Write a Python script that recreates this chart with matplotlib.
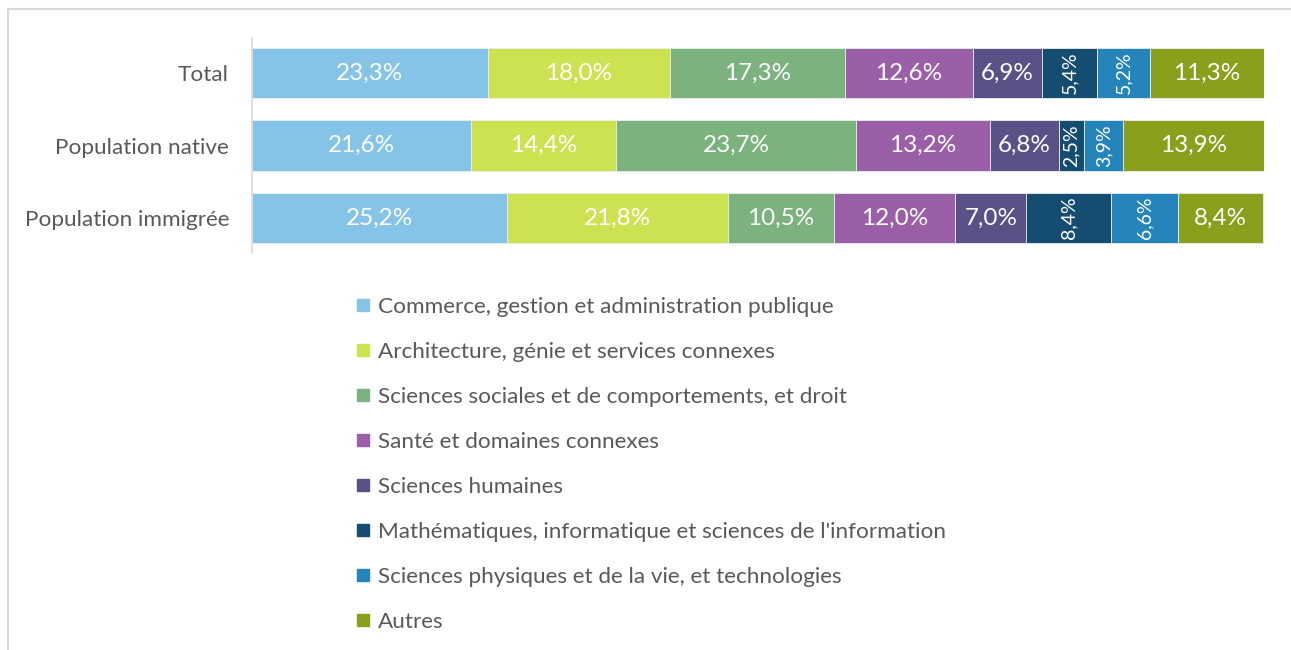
import numpy as np
import matplotlib
matplotlib.use('Agg')
import matplotlib.pyplot as plt
from matplotlib.lines import Line2D

plt.rcParams['font.family'] = ['Lato', 'DejaVu Sans']

groups = ['Total', 'Population native', 'Population immigrée']
fields = ['Commerce, gestion et administration publique',
          'Architecture, génie et services connexes',
          'Sciences sociales et de comportements, et droit',
          'Santé et domaines connexes',
          'Sciences humaines',
          "Mathématiques, informatique et sciences de l'information",
          'Sciences physiques et de la vie, et technologies',
          'Autres']
total = [23.3, 18.0, 17.3, 12.6, 6.9, 5.4, 5.2, 11.3]
native = [21.6, 14.4, 23.7, 13.2, 6.8, 2.5, 3.9, 13.9]
immigree = [25.2, 21.8, 10.5, 12.0, 7.0, 8.4, 6.6, 8.4]
colors = ['#85C4E6', '#CDE251', '#7BB27E', '#9B5FA7',
          '#5A5286', '#154D71', '#2585BB', '#8A9F1B']
rotated = [5, 6]

grey = '#595959'
data = np.array([total, native, immigree])

fig = plt.figure(figsize=(12.91, 6.5), dpi=100)
ax = fig.add_axes([252 / 1291, 1 - 253 / 650, 1012 / 1291, 215 / 650])

y = np.arange(len(groups))
left = np.zeros(len(groups))
for i in range(len(fields)):
    vals = data[:, i]
    ax.barh(y, vals, left=left, height=0.69, color=colors[i],
            edgecolor='#E8EEF2', linewidth=0.6)
    for j, v in enumerate(vals):
        rot = i in rotated
        ax.text(left[j] + v / 2, y[j], f'{v:.1f}%'.replace('.', ','),
                ha='center', va='center', color='white',
                fontsize=14 if rot else 17.5, rotation=90 if rot else 0)
    left += vals

ax.set_xlim(0, 100)
ax.set_ylim(2.483, -0.483)
ax.set_yticks(y)
ax.set_yticklabels(groups, fontsize=16.2, color=grey)
ax.tick_params(axis='y', length=0, pad=16.5)
ax.set_xticks([])
for s in ['top', 'right', 'bottom']:
    ax.spines[s].set_visible(False)
ax.spines['left'].set_color('#D9D9D9')
ax.spines['left'].set_linewidth(1.2)

handles = [Line2D([], [], marker='s', linestyle='none', markersize=8,
                  markerfacecolor=c, markeredgecolor=c) for c in colors]
leg = fig.legend(handles, fields, loc='upper left',
                 bbox_to_anchor=(357 / 1291, 1 - 297 / 650),
                 frameon=False, fontsize=16.2, labelcolor=grey,
                 handlelength=0.5, handletextpad=0.45, labelspacing=1.11,
                 borderaxespad=0, borderpad=0)

# light frame lines on top and left, as in the source image
fig.add_artist(Line2D([7.5 / 1291, 1], [1 - 8.5 / 650, 1 - 8.5 / 650],
                      color='#D9D9D9', linewidth=1.5))
fig.add_artist(Line2D([7.5 / 1291, 7.5 / 1291], [0, 1 - 8.5 / 650],
                      color='#D9D9D9', linewidth=1.5))

fig.savefig('out.png', dpi=100, facecolor='white')
